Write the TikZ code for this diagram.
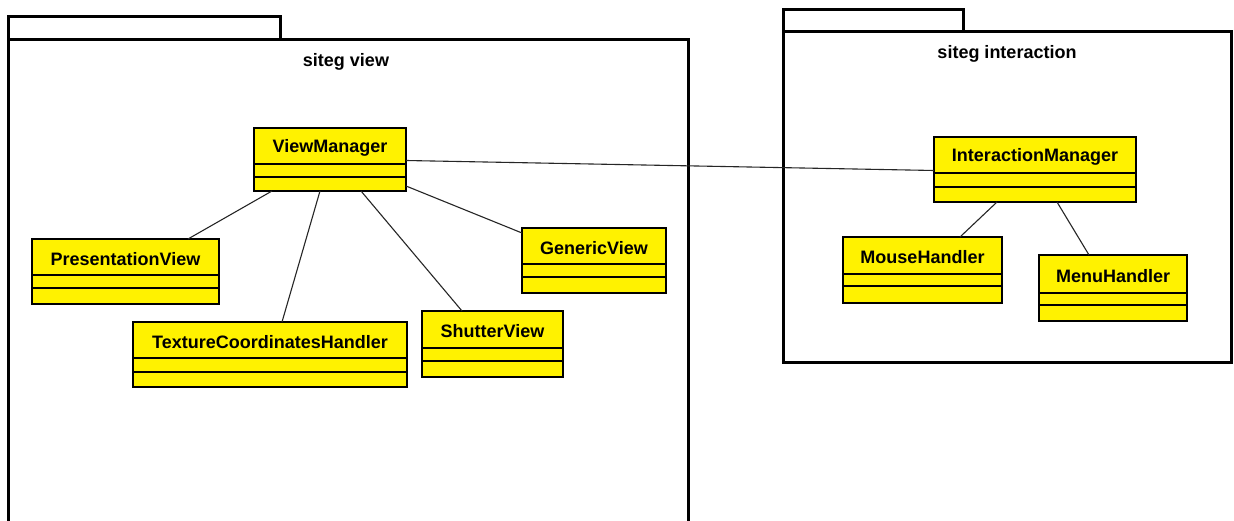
\documentclass[tikz,border=0pt]{standalone}
\usepackage{fontspec}
\setmainfont{Liberation Sans}
\usetikzlibrary{calc}

\tikzset{
  pkgline/.style={draw=black, line width=3pt},
  classbox/.style={draw=black, fill=yellow, line width=2.4pt, anchor=north west,
                   inner sep=0pt, outer sep=0pt},
  sepline/.style={draw=black, line width=1.6pt},
  classname/.style={font=\fontsize{18}{20}\selectfont\bfseries, inner sep=0pt, anchor=center},
  pkgtitle/.style={font=\fontsize{18}{20}\selectfont\bfseries, inner sep=0pt, anchor=center},
  assoc/.style={draw=black!85, line width=1.1pt},
}

% \umlclass{name}{text}{left}{top}{right}{bottom}{first separator}{second separator}
\newcommand{\umlclass}[8]{%
  \node[classbox, minimum width={(#5-#3)*1pt}, minimum height={(#6-#4)*1pt}] (#1) at (#3,#4) {};
  \node[classname] (#1-name) at ({(#3+#5)/2}, {(#4+#7)/2+2}) {#2};
  \draw[sepline] (#3,#7) -- (#5,#7);
  \draw[sepline] (#3,#8) -- (#5,#8);
  \draw[draw=black, line width=2.4pt] (#1.north west) rectangle (#1.south east);
}

\begin{document}
\begin{tikzpicture}[x=1pt, y=-1pt]
  \useasboundingbox[fill=white] (0,0) rectangle (1234,521);

  % package "siteg view"
  \draw[pkgline] (8,17) rectangle (280,40);
  \draw[pkgline] (8,528) -- (8,40) -- (688,40) -- (688,528);
  \node[pkgtitle] (viewtitle) at (346,62) {siteg view};

  % package "siteg interaction"
  \draw[pkgline] (783,10) rectangle (963,32);
  \draw[pkgline] (783,32) rectangle (1231,362);
  \node[pkgtitle] (inttitle) at (1007,54) {siteg interaction};

  % classes of siteg view
  \umlclass{vm}{ViewManager}{254}{128}{406}{191}{164}{177}
  \umlclass{pv}{PresentationView}{32}{239}{219}{304}{275}{288}
  \umlclass{tch}{TextureCoordinatesHandler}{133}{322}{407}{387}{358}{372}
  \umlclass{sv}{ShutterView}{422}{311}{563}{377}{348}{361}
  \umlclass{gv}{GenericView}{522}{228}{666}{293}{264}{277}

  % classes of siteg interaction
  \umlclass{im}{InteractionManager}{934}{137}{1136}{202}{173}{187}
  \umlclass{mh}{MouseHandler}{843}{237}{1002}{303}{274}{286}
  \umlclass{menu}{MenuHandler}{1039}{255}{1187}{321}{293}{305}

  % associations
  \draw[assoc] ([yshift=-1pt]vm.east) -- ([yshift=-1pt]im.west);
  \draw[assoc] ([xshift=18pt]vm.south west) -- ([xshift=156pt]pv.north west);
  \draw[assoc] ([xshift=66pt]vm.south west) -- ([xshift=149pt]tch.north west);
  \draw[assoc] ([xshift=107pt]vm.south west) -- ([xshift=40pt]sv.north west);
  \draw[assoc] ([yshift=5pt]vm.south east) -- ([yshift=-5pt]gv.north west);
  \draw[assoc] ([xshift=63pt]im.south west) -- ([xshift=117pt]mh.north west);
  \draw[assoc] ([xshift=123pt]im.south west) -- ([xshift=50pt]menu.north west);
\end{tikzpicture}
\end{document}
